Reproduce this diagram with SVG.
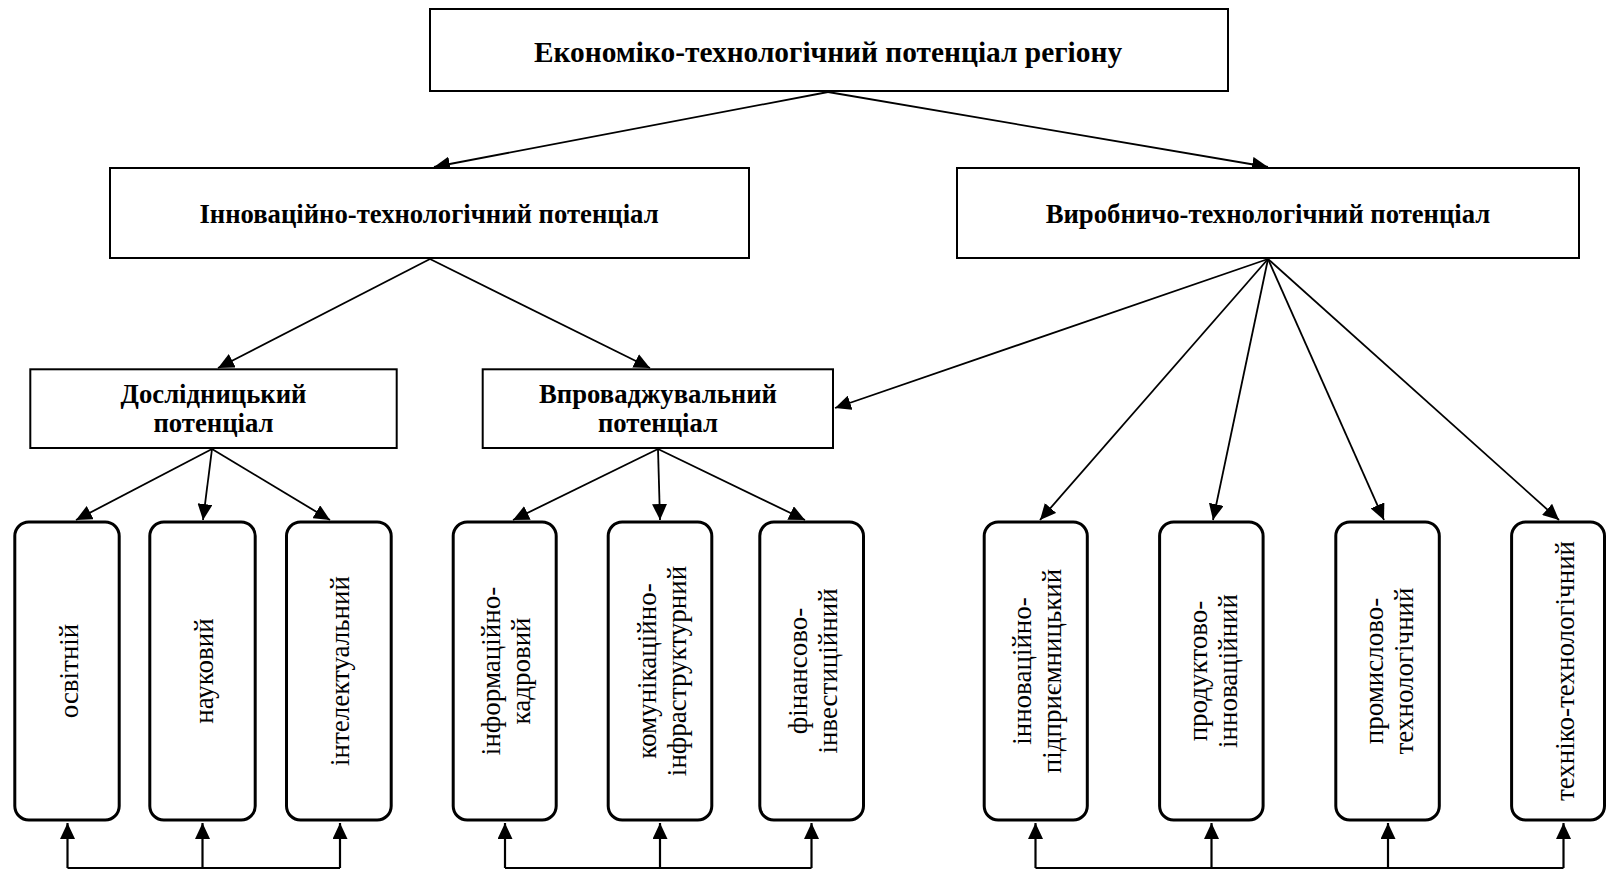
<svg xmlns="http://www.w3.org/2000/svg" width="1607" height="870" viewBox="0 0 1607 870">
<defs>
<marker id="ah" markerUnits="userSpaceOnUse" markerWidth="17" markerHeight="15" refX="16" refY="7.5" orient="auto" viewBox="0 0 17 15">
<path d="M0,0 L16,7.5 L0,15 z" fill="#000"/>
</marker>
<style>
.box{fill:#fff;stroke:#000;stroke-width:2}
.rbox{fill:#fff;stroke:#000;stroke-width:3}
.b{font-family:"Liberation Serif","Times New Roman",serif;font-weight:bold;font-size:26.7px;text-anchor:middle;fill:#000}
.t{font-size:29.4px}
.v{font-family:"Liberation Serif","Times New Roman",serif;font-size:27px;text-anchor:middle;fill:#000}
.c{fill:none;stroke:#000;stroke-width:1.8}
.f{fill:none;stroke:#000;stroke-width:2.2}
</style>
</defs>
<rect width="1607" height="870" fill="#fff"/>

<g id="connectors">
<path class="c" d="M828,92 L434,167" marker-end="url(#ah)"/>
<path class="c" d="M828,92 L1268,167" marker-end="url(#ah)"/>
<path class="c" d="M430,259 L218,368" marker-end="url(#ah)"/>
<path class="c" d="M430,259 L650,368" marker-end="url(#ah)"/>
<path class="c" d="M1268,259 L835,408" marker-end="url(#ah)"/>
<path class="c" d="M1268,259 L1040,520" marker-end="url(#ah)"/>
<path class="c" d="M1268,259 L1213,520" marker-end="url(#ah)"/>
<path class="c" d="M1268,259 L1384,520" marker-end="url(#ah)"/>
<path class="c" d="M1268,259 L1559,520" marker-end="url(#ah)"/>
<path class="c" d="M212,449 L76,520" marker-end="url(#ah)"/>
<path class="c" d="M212,449 L203,520" marker-end="url(#ah)"/>
<path class="c" d="M212,449 L330,520" marker-end="url(#ah)"/>
<path class="c" d="M658,449 L513,520" marker-end="url(#ah)"/>
<path class="c" d="M658,449 L660,520" marker-end="url(#ah)"/>
<path class="c" d="M658,449 L805,520" marker-end="url(#ah)"/>
<path class="f" d="M67.5,868 H340"/>
<path class="f" d="M67.5,868 V823" marker-end="url(#ah)"/>
<path class="f" d="M202.5,868 V823" marker-end="url(#ah)"/>
<path class="f" d="M340,868 V823" marker-end="url(#ah)"/>
<path class="f" d="M505,868 H811.5"/>
<path class="f" d="M505,868 V823" marker-end="url(#ah)"/>
<path class="f" d="M660,868 V823" marker-end="url(#ah)"/>
<path class="f" d="M811.5,868 V823" marker-end="url(#ah)"/>
<path class="f" d="M1035.5,868 H1563.5"/>
<path class="f" d="M1035.5,868 V823" marker-end="url(#ah)"/>
<path class="f" d="M1211.5,868 V823" marker-end="url(#ah)"/>
<path class="f" d="M1388,868 V823" marker-end="url(#ah)"/>
<path class="f" d="M1563.5,868 V823" marker-end="url(#ah)"/>
</g>

<g id="n-top">
<rect class="box" x="430" y="9" width="798" height="82"/>
<text class="b t" x="828" y="62">Економіко-технологічний потенціал регіону</text>
</g>
<g id="n-innov">
<rect class="box" x="110" y="168" width="639" height="90"/>
<text class="b" x="429" y="223">Інноваційно-технологічний потенціал</text>
</g>
<g id="n-vyrob">
<rect class="box" x="957" y="168" width="622" height="90"/>
<text class="b" x="1268" y="223">Виробничо-технологічний потенціал</text>
</g>
<g id="n-doslid">
<rect class="box" x="30.3" y="369.3" width="366.4" height="78.7"/>
<text class="b" x="213.5" y="403">Дослідницький</text>
<text class="b" x="213.5" y="431.5">потенціал</text>
</g>
<g id="n-vprov">
<rect class="box" x="482.7" y="369.3" width="350.3" height="78.7"/>
<text class="b" x="658" y="403">Впроваджувальний</text>
<text class="b" x="658" y="431.5">потенціал</text>
</g>

<g id="n-osvit">
<rect class="rbox" x="14.8" y="522" width="104.4" height="298" rx="14"/>
<text class="v" transform="translate(77.5,671) rotate(-90)">освітній</text>
</g>
<g id="n-nauk">
<rect class="rbox" x="149.8" y="522" width="105.4" height="298" rx="14"/>
<text class="v" transform="translate(213,671) rotate(-90)">науковий</text>
</g>
<g id="n-intel">
<rect class="rbox" x="286.5" y="522" width="104.7" height="298" rx="14"/>
<text class="v" transform="translate(349.3,671) rotate(-90)">інтелектуальний</text>
</g>
<g id="n-inform">
<rect class="rbox" x="453.2" y="522" width="103" height="298" rx="14"/>
<text class="v" transform="translate(500.2,671) rotate(-90)">інформаційно-</text>
<text class="v" transform="translate(530.2,671) rotate(-90)">кадровий</text>
</g>
<g id="n-komun">
<rect class="rbox" x="608.2" y="522" width="103.6" height="298" rx="14"/>
<text class="v" transform="translate(655.5,671) rotate(-90)">комунікаційно-</text>
<text class="v" transform="translate(685.5,671) rotate(-90)">інфраструктурний</text>
</g>
<g id="n-finans">
<rect class="rbox" x="759.8" y="522" width="103.7" height="298" rx="14"/>
<text class="v" transform="translate(807.2,671) rotate(-90)">фінансово-</text>
<text class="v" transform="translate(837.2,671) rotate(-90)">інвестиційний</text>
</g>
<g id="n-innpidpr">
<rect class="rbox" x="984.2" y="522" width="103.1" height="298" rx="14"/>
<text class="v" transform="translate(1031.2,671) rotate(-90)">інноваційно-</text>
<text class="v" transform="translate(1061.2,671) rotate(-90)">підприємницький</text>
</g>
<g id="n-produkt">
<rect class="rbox" x="1159.6" y="522" width="103.5" height="298" rx="14"/>
<text class="v" transform="translate(1206.9,671) rotate(-90)">продуктово-</text>
<text class="v" transform="translate(1236.9,671) rotate(-90)">інноваційний</text>
</g>
<g id="n-promysl">
<rect class="rbox" x="1335.8" y="522" width="103.5" height="298" rx="14"/>
<text class="v" transform="translate(1383,671) rotate(-90)">промислово-</text>
<text class="v" transform="translate(1413,671) rotate(-90)">технологічний</text>
</g>
<g id="n-tekhn">
<rect class="rbox" x="1511.6" y="522" width="92.9" height="298" rx="14"/>
<text class="v" transform="translate(1573.5,671) rotate(-90)">техніко-технологічний</text>
</g>
</svg>
